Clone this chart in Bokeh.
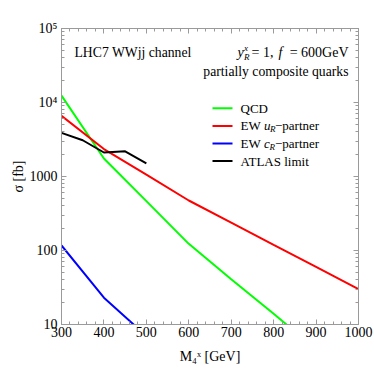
from bokeh.plotting import figure
from bokeh.models import LogAxis, LinearAxis, Label, BoxAnnotation, Range1d, FixedTicker
from bokeh.embed import file_html
from bokeh.resources import INLINE

# ---------------- data ----------------
mass = [300, 400, 500, 600, 700, 800, 900, 1000]
qcd = [12400, 1750, 465, 123, 41, 14, 4.6]
qcd_mass = mass[:len(qcd)]
ew_u = [6600, 2350, 1060, 474, 238, 119, 60, 30]
ew_c_mass = [300, 400, 500]
ew_c = [117, 23, 7]
atlas_mass = [300, 350, 400, 450, 500]
atlas = [3890, 3090, 2110, 2190, 1500]

x_ticks = [300, 400, 500, 600, 700, 800, 900, 1000]
y_ticks = [10, 100, 1000, 10000, 100000]
y_tick_labels = {10: "10", 100: "100", 1000: "1000", 10000: "10\u2074", 100000: "10\u2075"}

series_colors = ["#00ff00", "#ff0000", "#0000ff", "#000000"]

FONT = "Liberation Serif"
FRAME = "#9a9a9a"

W, H = 374, 374
p = figure(width=W, height=H, output_backend="svg", toolbar_location=None,
           y_axis_type="log", x_range=Range1d(300, 1000), y_range=Range1d(10, 1e5),
           min_border_left=61, min_border_right=16, min_border_top=28, min_border_bottom=50)
p.xgrid.visible = False
p.ygrid.visible = False
p.outline_line_color = FRAME
p.background_fill_color = "white"
p.border_fill_color = "white"

xminor = list(range(300, 1001, 20))
yminor = [m * 10 ** k for k in range(1, 5) for m in range(2, 10)]

def style(ax, labels=True):
    ax.axis_line_color = FRAME
    ax.major_tick_line_color = FRAME
    ax.minor_tick_line_color = FRAME
    ax.major_tick_in = 5
    ax.major_tick_out = 0
    ax.minor_tick_in = 3
    ax.minor_tick_out = 0
    ax.major_label_text_font = FONT
    ax.major_label_text_color = "black"
    ax.axis_label_text_font = FONT
    ax.axis_label_text_font_size = "14px"
    ax.axis_label_text_font_style = "normal"
    ax.axis_label_text_color = "black"
    if labels:
        ax.major_label_text_font_size = "14px"
    else:
        ax.major_label_text_font_size = "0px"
        ax.major_label_text_alpha = 0
        ax.major_label_standoff = 0

xax = p.xaxis[0]
xax.ticker = FixedTicker(ticks=x_ticks, minor_ticks=xminor)
style(xax)
xax.major_label_standoff = 2
xax.axis_label = "M\u2084\u02e3 [GeV]"
xax.axis_label_standoff = 9

yax = p.yaxis[0]
yax.ticker = FixedTicker(ticks=y_ticks, minor_ticks=yminor)
yax.major_label_overrides = y_tick_labels
style(yax)
yax.major_label_standoff = 4
yax.axis_label = "\u03c3 [fb]"
yax.axis_label_standoff = 1

top = LinearAxis(ticker=FixedTicker(ticks=x_ticks, minor_ticks=xminor))
style(top, labels=False)
p.add_layout(top, "above")
right = LogAxis(ticker=FixedTicker(ticks=y_ticks, minor_ticks=yminor))
style(right, labels=False)
p.add_layout(right, "right")

# ---------------- curves ----------------
p.line(qcd_mass, qcd, line_color=series_colors[0], line_width=2)
p.line(mass, ew_u, line_color=series_colors[1], line_width=2)
p.line(ew_c_mass, ew_c, line_color=series_colors[2], line_width=2)
p.line(atlas_mass, atlas, line_color=series_colors[3], line_width=2)

# ---------------- text helpers ----------------
# "screen" units: relative to the plot frame (x from left, y from bottom)
def lab(x, y, text, size=13.5, style="normal", align="left", baseline="middle"):
    p.add_layout(Label(x=x, y=y, x_units="screen", y_units="screen", text=text,
                       text_font=FONT, text_font_size=f"{size}px", text_font_style=style,
                       text_align=align, text_baseline=baseline, text_color="black"))

# top-left annotation
lab(13, 272, "LHC7 WWjj channel", size=13.7)
# top-right annotation
lab(176, 272, "y", size=14, style="italic")
lab(182.5, 268, "R", size=9, style="italic")
lab(182.5, 277, "x", size=9, style="italic")
lab(190, 272, "= 1,", size=14)
lab(217, 272, "f", size=14, style="italic")
lab(287, 272, "= 600GeV", size=14, align="right")
lab(287, 253, "partially composite quarks", size=13.7, align="right")

# legend
rows = [216.3, 198.6, 181.0, 163.4]
for yy, c in zip(rows, series_colors):
    p.add_layout(BoxAnnotation(left=151, right=171, bottom=yy - 1, top=yy + 1,
                               left_units="screen", right_units="screen",
                               top_units="screen", bottom_units="screen",
                               fill_color=c, fill_alpha=1, line_color=None))
lab(179, rows[0], "QCD", size=13)
lab(179, rows[1], "EW", size=13)
lab(202.5, rows[1], "u", size=13, style="italic")
lab(208.5, rows[1] - 3, "R", size=9, style="italic")
lab(213.5, rows[1], "\u2212partner", size=13)
lab(179, rows[2], "EW", size=13)
lab(202.5, rows[2], "c", size=13, style="italic")
lab(208, rows[2] - 3, "R", size=9, style="italic")
lab(213.5, rows[2], "\u2212partner", size=13)
lab(179, rows[3], "ATLAS limit", size=13)

open("out.html", "w").write(file_html(p, INLINE))
